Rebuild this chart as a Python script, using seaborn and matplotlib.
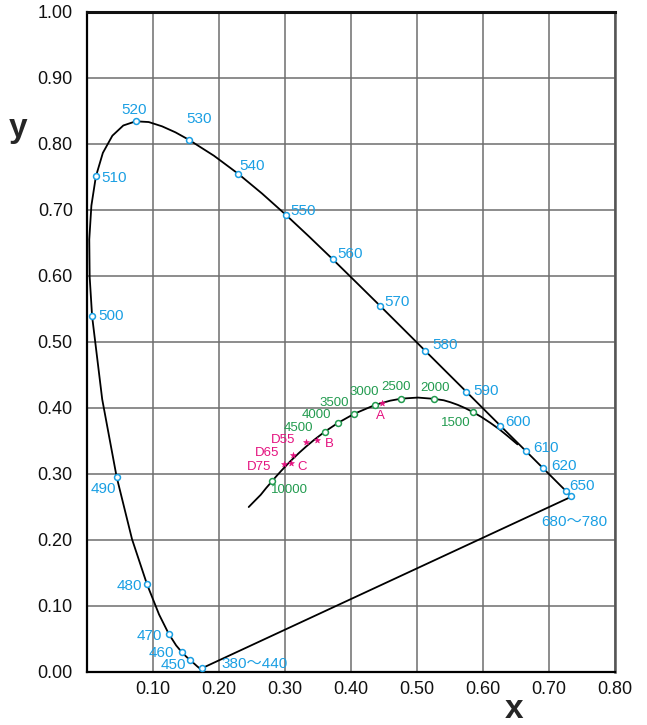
import numpy as np
import pandas as pd
import matplotlib
matplotlib.use("Agg")
import matplotlib.pyplot as plt
import seaborn as sns

# === CIE 1931 spectral locus (5 nm steps, extra points at the bend) ===
wavelength = [380, 385, 390, 395, 400, 405, 410, 415, 420, 425, 430, 435, 440, 445,
              450, 455, 460, 465, 470, 475, 480, 485, 490, 495, 500, 502.5, 505, 507.5,
              510, 512.5, 515, 517.5, 520, 522.5, 525, 527.5, 530, 535, 540, 545, 550,
              555, 560, 565, 570, 575, 580, 585, 590, 595, 600, 605, 610, 615, 620, 625,
              630, 635, 640, 645, 650, 655, 660, 665, 670, 675, 680, 780]
locus_x = [0.1741, 0.1740, 0.1738, 0.1736, 0.1733, 0.1730, 0.1726, 0.1721, 0.1714, 0.1703,
           0.1689, 0.1669, 0.1644, 0.1611, 0.1566, 0.1510, 0.1440, 0.1355, 0.1241, 0.1096,
           0.0913, 0.0687, 0.0454, 0.0235, 0.0082, 0.0045, 0.0039, 0.0071, 0.0139, 0.0245,
           0.0389, 0.0555, 0.0743, 0.0940, 0.1142, 0.1345, 0.1547, 0.1929, 0.2296, 0.2658,
           0.3016, 0.3373, 0.3731, 0.4087, 0.4441, 0.4788, 0.5125, 0.5448, 0.5752, 0.6029,
           0.6270, 0.6482, 0.6658, 0.6801, 0.6915, 0.7006, 0.7079, 0.7140, 0.7190, 0.7230,
           0.7260, 0.7283, 0.7300, 0.7311, 0.7320, 0.7327, 0.7334, 0.7347]
locus_y = [0.0050, 0.0050, 0.0049, 0.0049, 0.0048, 0.0048, 0.0048, 0.0048, 0.0051, 0.0058,
           0.0069, 0.0086, 0.0109, 0.0138, 0.0177, 0.0227, 0.0297, 0.0399, 0.0578, 0.0868,
           0.1327, 0.2007, 0.2950, 0.4127, 0.5384, 0.5980, 0.6548, 0.7060, 0.7502, 0.7860,
           0.8120, 0.8275, 0.8338, 0.8327, 0.8262, 0.8171, 0.8059, 0.7816, 0.7543, 0.7243,
           0.6923, 0.6589, 0.6245, 0.5896, 0.5547, 0.5202, 0.4866, 0.4544, 0.4242, 0.3965,
           0.3725, 0.3514, 0.3340, 0.3197, 0.3083, 0.2993, 0.2920, 0.2859, 0.2809, 0.2770,
           0.2740, 0.2717, 0.2700, 0.2689, 0.2680, 0.2673, 0.2666, 0.2653]

# wavelengths marked on the locus and their labels
marked_nm = [380, 450, 460, 470, 480, 490, 500, 510, 520, 530, 540, 550, 560, 570,
             580, 590, 600, 610, 620, 650, 680]
marked_text = ["380～440", "450", "460", "470", "480", "490", "500", "510", "520", "530",
               "540", "550", "560", "570", "580", "590", "600", "610", "620", "650", "680～780"]

# === Planckian (black body) locus ===
planck_K = [1000, 1100, 1200, 1300, 1400, 1500, 1600, 1700, 1800, 1900, 2000, 2200, 2500,
            2700, 3000, 3500, 4000, 4500, 5000, 5500, 6000, 6500, 7000, 8000, 9000, 10000,
            12000, 15000, 20000, 30000]
planck_x = [0.6528, 0.6387, 0.6251, 0.6116, 0.5984, 0.5857, 0.5736, 0.5621, 0.5512, 0.5410,
            0.5267, 0.5018, 0.4770, 0.4599, 0.4369, 0.4053, 0.3805, 0.3608, 0.3451, 0.3325,
            0.3221, 0.3135, 0.3064, 0.2952, 0.2869, 0.2807, 0.2719, 0.2637, 0.2548, 0.2455]
planck_y = [0.3444, 0.3563, 0.3674, 0.3770, 0.3857, 0.3931, 0.3993, 0.4043, 0.4082, 0.4112,
            0.4133, 0.4153, 0.4137, 0.4106, 0.4041, 0.3907, 0.3768, 0.3636, 0.3516, 0.3411,
            0.3318, 0.3236, 0.3166, 0.3048, 0.2956, 0.2884, 0.2782, 0.2680, 0.2590, 0.2495]
marked_K = [1500, 2000, 2500, 3000, 3500, 4000, 4500, 10000]

# === Standard illuminants ===
illum_name = ["A", "B", "C", "D55", "D65", "D75"]
illum_x = [0.4476, 0.3484, 0.3101, 0.3324, 0.3127, 0.2990]
illum_y = [0.4074, 0.3516, 0.3162, 0.3474, 0.3290, 0.3149]

# label offsets (pixels) and alignment
wl_offsets = {380: (20, 4, "left"), 450: (-4, -5, "right"), 460: (-8, -1, "right"),
              470: (-7, -2, "right"), 480: (-5, -2, "right"), 490: (-1, -12, "right"),
              500: (6, 0, "left"), 510: (5, -2, "left"), 520: (-2, 11, "center"),
              530: (10, 21, "center"), 540: (1, 8, "left"), 550: (5, 4, "left"),
              560: (4, 5, "left"), 570: (5, 4, "left"), 580: (7, 6, "left"),
              590: (7, 1, "left"), 600: (5, 4, "left"), 610: (7, 3, "left"),
              620: (8, 2, "left"), 650: (3, 5, "left"), 680: (-29, -26, "left")}
k_offsets = {1500: (-17, -11), 2000: (1, 11), 2500: (-5, 12), 3000: (-11, 13),
             3500: (-20, 11), 4000: (-21, 8), 4500: (-26, 4), 10000: (18, -9)}
il_offsets = {"A": (-2, -13, "center"), "B": (8, -4, "left"), "C": (6, -4, "left"),
              "D55": (-11, 2, "right"), "D65": (-14, 2, "right"), "D75": (-13, -3, "right")}

BLUE = "#1a9fe3"
GREEN = "#229b4f"
MAGENTA = "#e4117f"

sns.set_style("white")
plt.rcParams["font.family"] = ["Liberation Sans", "Noto Sans CJK JP", "DejaVu Sans"]

fig = plt.figure(figsize=(6.47, 7.25), dpi=100)
ax = fig.add_axes([0.134, 0.0735, 0.816, 0.9105])

locus = pd.DataFrame({"nm": wavelength, "x": locus_x, "y": locus_y})
planck = pd.DataFrame({"K": planck_K, "x": planck_x, "y": planck_y})
illum = pd.DataFrame({"name": illum_name, "x": illum_x, "y": illum_y})

# spectral locus + purple line
sns.lineplot(data=locus, x="x", y="y", sort=False, estimator=None, color="black", lw=1.3, ax=ax)
purple = locus.iloc[[0, -1]]
sns.lineplot(data=purple, x="x", y="y", sort=False, estimator=None, color="black", lw=1.3, ax=ax)

# planckian locus
sns.lineplot(data=planck, x="x", y="y", sort=False, estimator=None, color="black", lw=1.3, ax=ax)

# markers
wl_pts = locus[locus["nm"].isin(marked_nm)]
sns.scatterplot(data=wl_pts, x="x", y="y", marker="o", s=18, facecolor="white",
                edgecolor=BLUE, linewidth=1.1, zorder=5, ax=ax)
k_pts = planck[planck["K"].isin(marked_K)]
sns.scatterplot(data=k_pts, x="x", y="y", marker="o", s=18, facecolor="white",
                edgecolor=GREEN, linewidth=1.1, zorder=5, ax=ax)
sns.scatterplot(data=illum, x="x", y="y", marker="*", s=20, color=MAGENTA,
                edgecolor=MAGENTA, linewidth=0.4, zorder=5, ax=ax)

# labels
for nm, txt in zip(marked_nm, marked_text):
    row = locus[locus["nm"] == nm].iloc[0]
    dx, dy, ha = wl_offsets[nm]
    ax.annotate(txt, (row["x"], row["y"]), xytext=(dx, dy), textcoords="offset pixels",
                ha=ha, va="center", color=BLUE, fontsize=11)
for k in marked_K:
    row = planck[planck["K"] == k].iloc[0]
    dx, dy = k_offsets[k]
    ax.annotate(str(k), (row["x"], row["y"]), xytext=(dx, dy), textcoords="offset pixels",
                ha="center", va="center", color=GREEN, fontsize=9.5)
for _, row in illum.iterrows():
    dx, dy, ha = il_offsets[row["name"]]
    ax.annotate(row["name"], (row["x"], row["y"]), xytext=(dx, dy), textcoords="offset pixels",
                ha=ha, va="center", color=MAGENTA, fontsize=9.5)

# axes
ax.set_xlim(0, 0.8)
ax.set_ylim(0, 1.0)
xt = np.arange(1, 9) / 10
yt = np.arange(0, 11) / 10
ax.set_xticks(xt)
ax.set_xticklabels([f"{v:.2f}" for v in xt])
ax.set_yticks(yt)
ax.set_yticklabels([f"{v:.2f}" for v in yt])
ax.tick_params(axis="both", length=0, labelsize=13, colors="#111111")
ax.tick_params(axis="y", pad=10)
ax.tick_params(axis="x", pad=7)
ax.set_xlabel("")
ax.set_ylabel("")
ax.grid(True, color="#6e6e6e", lw=1.1)
ax.set_axisbelow(True)
for side in ["left", "bottom"]:
    ax.spines[side].set_color("black")
    ax.spines[side].set_linewidth(1.6)
ax.spines["top"].set_color("#111111")
ax.spines["top"].set_linewidth(2.2)
ax.spines["right"].set_color("#555555")
ax.spines["right"].set_linewidth(1.8)

fig.text(18 / 647, 1 - 128 / 725, "y", fontsize=24, fontweight="bold", ha="center", va="center")
fig.text(514 / 647, 1 - 710 / 725, "x", fontsize=24, fontweight="bold", ha="center", va="center")

fig.savefig("out.png", dpi=100)
